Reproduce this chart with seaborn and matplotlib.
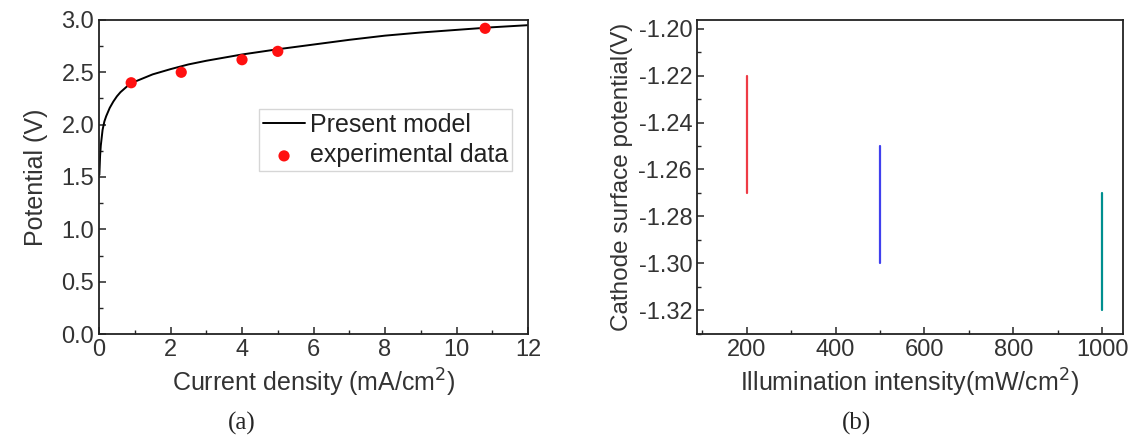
import numpy as np
import pandas as pd
import matplotlib
matplotlib.use("Agg")
import matplotlib.pyplot as plt
import seaborn as sns
from matplotlib.ticker import MultipleLocator, FormatStrFormatter

# (a) model curve
model_current = [0.01, 0.03, 0.05, 0.1, 0.15, 0.2, 0.3, 0.4, 0.5, 0.6, 0.8, 1.0, 1.25, 1.5, 2.0, 2.5,
                 3.0, 3.5, 4.0, 5.0, 6.0, 7.0, 8.0, 9.0, 10.0, 11.0, 12.0]
model_potential = [1.52, 1.70, 1.80, 1.95, 2.03, 2.08, 2.16, 2.22, 2.27, 2.31, 2.37, 2.41, 2.445, 2.48, 2.53, 2.575,
                   2.61, 2.64, 2.67, 2.72, 2.765, 2.81, 2.85, 2.88, 2.905, 2.93, 2.95]

# (a) experimental points
exp_current = [0.9, 2.3, 4.0, 5.0, 10.8]
exp_potential = [2.40, 2.50, 2.62, 2.70, 2.92]

# (b) potential ranges per illumination intensity
intensity = [200, 500, 1000]
pot_top = [-1.22, -1.25, -1.27]
pot_bottom = [-1.27, -1.30, -1.32]
line_colors = ["#ee3b45", "#4040ee", "#008f8f"]

sns.set_style("ticks")
plt.rcParams["font.family"] = ["Liberation Sans", "DejaVu Sans"]
plt.rcParams["xtick.direction"] = "in"
plt.rcParams["ytick.direction"] = "in"
plt.rcParams["axes.edgecolor"] = "#222222"
plt.rcParams["axes.linewidth"] = 1.3

fig = plt.figure(figsize=(11.38, 4.43), dpi=100)
ax1 = fig.add_axes([0.087, 0.246, 0.377, 0.709])
ax2 = fig.add_axes([0.6125, 0.246, 0.3743, 0.709])

label_kw = dict(fontsize=18, color="#333333")

# --- panel (a)
df_model = pd.DataFrame({"current": model_current, "potential": model_potential})
df_exp = pd.DataFrame({"current": exp_current, "potential": exp_potential})
sns.lineplot(data=df_model, x="current", y="potential", ax=ax1, color="black",
             linewidth=1.4, label="Present model")
sns.scatterplot(data=df_exp, x="current", y="potential", ax=ax1, color="#ff1010",
                s=65, edgecolor="none", label="experimental data", zorder=3)
ax1.set_xlim(0, 12)
ax1.set_ylim(0, 3.0)
ax1.xaxis.set_major_locator(MultipleLocator(2))
ax1.xaxis.set_minor_locator(MultipleLocator(1))
ax1.yaxis.set_major_locator(MultipleLocator(0.5))
ax1.yaxis.set_minor_locator(MultipleLocator(0.25))
ax1.set_xlabel("Current density (mA/cm$^2$)", **label_kw)
ax1.set_ylabel("Potential (V)", labelpad=10, **label_kw)
ax1.tick_params(labelsize=17, labelcolor="#333333", length=5, width=1.1)
ax1.tick_params(which="minor", length=3, width=1.0)
leg = ax1.legend(loc="upper left", bbox_to_anchor=(0.373, 0.715), fontsize=18,
                 frameon=True, fancybox=False, edgecolor="#cccccc",
                 handlelength=1.7, handletextpad=0.2, borderpad=0.15,
                 labelspacing=0.25, borderaxespad=0)
leg.get_frame().set_linewidth(1.0)
for t in leg.get_texts():
    t.set_color("#222222")

# --- panel (b)
rows = []
for x, top, bot in zip(intensity, pot_top, pot_bottom):
    rows.append({"intensity": x, "potential": top, "group": str(x)})
    rows.append({"intensity": x, "potential": bot, "group": str(x)})
df_b = pd.DataFrame(rows)
sns.lineplot(data=df_b, x="intensity", y="potential", hue="group",
             palette=dict(zip([str(v) for v in intensity], line_colors)),
             estimator=None, sort=False, linewidth=1.6, legend=False, ax=ax2)
ax2.set_xlim(88, 1047)
ax2.set_ylim(-1.3302, -1.1962)
ax2.xaxis.set_major_locator(MultipleLocator(200))
ax2.xaxis.set_minor_locator(MultipleLocator(100))
ax2.yaxis.set_major_locator(MultipleLocator(0.02))
ax2.yaxis.set_minor_locator(MultipleLocator(0.01))
ax2.yaxis.set_major_formatter(FormatStrFormatter("%.2f"))
ax2.set_xlabel("Illumination intensity(mW/cm$^2$)", **label_kw)
ax2.set_ylabel("Cathode surface potential(V)", fontsize=17.5, color="#333333")
ax2.tick_params(labelsize=17, labelcolor="#333333", length=5, width=1.1)
ax2.tick_params(which="minor", length=3, width=1.0)

# captions
serif = ["Liberation Serif", "DejaVu Serif"]
fig.text(0.212, 0.03, "(a)", fontsize=18, family=serif, ha="center")
fig.text(0.753, 0.03, "(b)", fontsize=18, family=serif, ha="center")

fig.savefig("out.png", dpi=100)
